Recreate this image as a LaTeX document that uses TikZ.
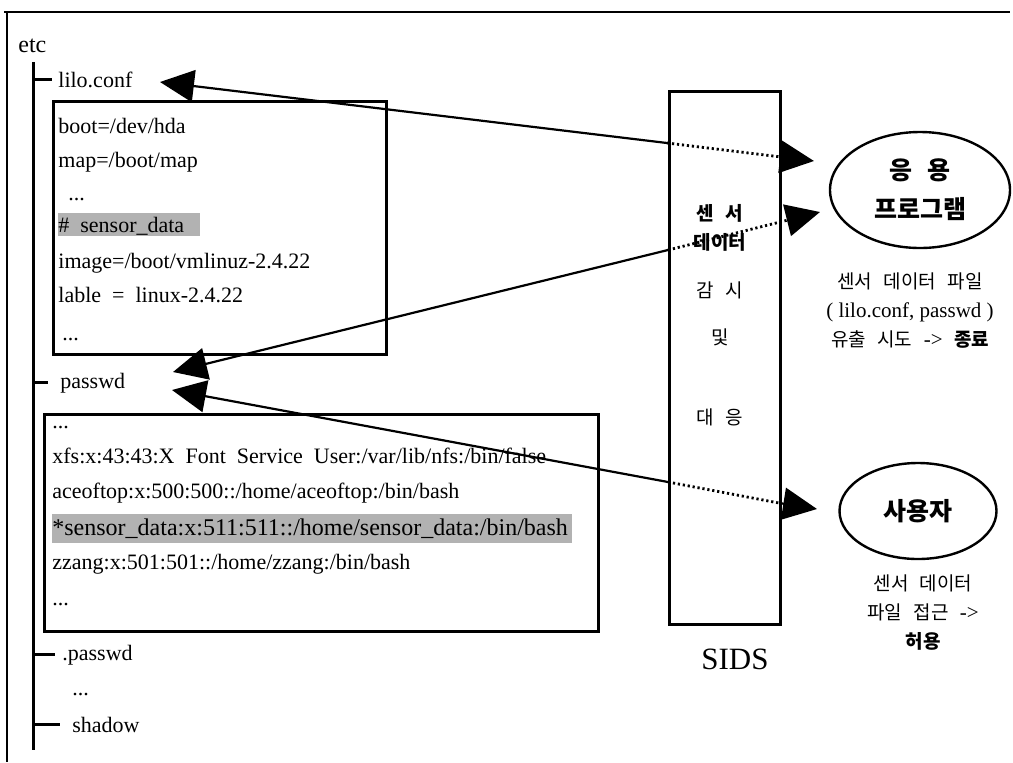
\documentclass[tikz,border=0pt]{standalone}
\usepackage{fontspec}
\setmainfont{Liberation Serif}
\newfontfamily\kr{Noto Sans CJK KR}
\usetikzlibrary{arrows.meta,shapes.geometric}
\newcommand\kgap{\hspace{0.6em}}
\tikzset{
  px/.style={x=0.5pt,y=-0.5pt},
  txt/.style={anchor=base west, inner sep=0pt, font=\fontsize{11}{13}\selectfont},
  frameline/.style={line width=1.4pt},
  treeline/.style={line width=1.5pt},
  filebox/.style={draw, line width=1.3pt, anchor=north west, inner sep=0pt},
  hl/.style={fill=black!30, draw=none},
  link/.style={line width=1.1pt},
  dotlink/.style={line width=1.4pt, dash pattern=on 1.1pt off 1.4pt},
  bigtip/.style={-{Triangle[length=17pt,width=16pt]}},
  ksys/.style={inner sep=0pt, font=\kr\fontsize{9.5}{11}\selectfont},
  ksysb/.style={inner sep=0pt, font=\kr\bfseries\fontsize{9.5}{11}\selectfont},
  oval/.style={draw, ellipse, line width=1.2pt, inner sep=0pt, align=center,
               font=\kr\bfseries\fontsize{12.5}{19.5}\selectfont},
  knote/.style={inner sep=0pt, align=center, font=\kr\fontsize{9.5}{14.5}\selectfont},
}
\begin{document}
\begin{tikzpicture}[px]
\useasboundingbox (0,0) rectangle (1013,762);
% frame
\draw[frameline] (4,12) -- (1010,12);
\draw[frameline] (7,12) -- (7,762);

% highlights
\fill[hl] (58,213) rectangle (200,236);
\fill[hl] (52,514) rectangle (572,543);

% tree labels
\node[txt, font=\fontsize{12}{14}\selectfont] (etc) at (18,52) {etc};
\node[txt] (lilo) at (58,87) {lilo.conf};
\node[txt] (passwd) at (60,388) {passwd};
\node[txt] (dpasswd) at (62,660) {.passwd};
\node[txt] (tdots) at (72,695) {...};
\node[txt] (shadow) at (72,732) {shadow};

% lilo.conf content
\node[txt] (l1) at (58,133) {boot=/dev/hda};
\node[txt] (l2) at (58,167) {map=/boot/map};
\node[txt] (l3) at (68,200) {...};
\node[txt] (l4) at (58,232) {\#\ \ sensor\_data};
\node[txt] (l5) at (58,268) {image=/boot/vmlinuz-2.4.22};
\node[txt] (l6) at (58,302) {lable\ \ =\ \ linux-2.4.22};
\node[txt] (l7) at (62,340) {...};

% passwd content
\node[txt] (p1) at (52,428) {...};
\node[txt] (p2) at (52,463) {xfs:x:43:43:X\ \ Font\ \ Service\ \ User:/var/lib/nfs:/bin/false};
\node[txt] (p3) at (52,498) {aceoftop:x:500:500::/home/aceoftop:/bin/bash};
\node[txt, font=\fontsize{12}{14}\selectfont] (p4) at (52,535) {*sensor\_data:x:511:511::/home/sensor\_data:/bin/bash};
\node[txt] (p5) at (52,569) {zzang:x:501:501::/home/zzang:/bin/bash};
\node[txt] (p6) at (52,605) {...};

% boxes
\node[filebox, minimum width=166.5pt, minimum height=126.5pt] (lilobox) at (52,100) {};
\node[filebox, minimum width=277pt, minimum height=108.5pt] (pwbox) at (43,413) {};
\node[filebox, minimum width=55.5pt, minimum height=266.5pt] (sids) at (668,90) {};

% tree
\coordinate (ttop) at (33,62);
\coordinate (tbot) at (33,750);
\draw[treeline] (ttop) -- (tbot);
\draw[treeline] (ttop |- lilo.west) -- ([xshift=-3pt]lilo.west);
\draw[treeline] (ttop |- passwd.west) -- ([xshift=-6pt]passwd.west);
\draw[treeline] (ttop |- dpasswd.west) -- ([xshift=-3.5pt]dpasswd.west);
\draw[treeline] (ttop |- shadow.west) -- ([xshift=-6pt]shadow.west);

% SIDS column text
\node[ksysb] (c1) at (720,213) {센\kgap 서};
\node[ksysb] (c2) at (720,242) {데이터};
\node[ksys] (c3) at (720,290) {감\kgap 시};
\node[ksys] (c4) at (720,337) {및};
\node[ksys] (c5) at (720,417) {대\kgap 응};
\node[inner sep=0pt, font=\fontsize{15.5}{18}\selectfont] (sidslbl) at (735,659) {SIDS};

% right side
\node[oval, minimum width=90pt, minimum height=58pt] (app) at (920,190) {응\kgap 용\\프로그램};
\node[oval, minimum width=78.5pt, minimum height=48pt] (user) at (918,511) {사용자};
\node[knote] (appnote) at (910,311) {센서\kgap 데이터\kgap 파일\\{\rmfamily\fontsize{10.5}{14.5}\selectfont (\ lilo.conf,\ passwd\ )}\\유출\kgap 시도\kgap{\rmfamily\fontsize{10.5}{14.5}\selectfont ->}\kgap{\bfseries 종료}};
\node[knote] (usernote) at (923,613) {센서\kgap 데이터\\파일\kgap 접근\kgap{\rmfamily\fontsize{10.5}{14.5}\selectfont ->}\\{\bfseries 허용}};

% connectors
\coordinate (a1) at (160,82);
\coordinate (m1) at (667,143);
\coordinate (e1) at (814,161);
\coordinate (a2) at (173,372);
\coordinate (m2) at (668,250);
\coordinate (e2) at (820,212);
\coordinate (a3) at (172,390);
\coordinate (m3) at (668,482);
\coordinate (r3) at (779,503);
\coordinate (e3) at (817,509);
\draw[link, bigtip] (m1) -- (a1);
\draw[dotlink, bigtip] (m1) -- (e1);
\draw[link, bigtip] (m2) -- (a2);
\draw[dotlink, bigtip] (m2) -- (e2);
\draw[link, bigtip] (m3) -- (a3);
\draw[dotlink] (m3) -- (r3);
\draw[link, bigtip] (r3) -- (e3);
\end{tikzpicture}
\end{document}
